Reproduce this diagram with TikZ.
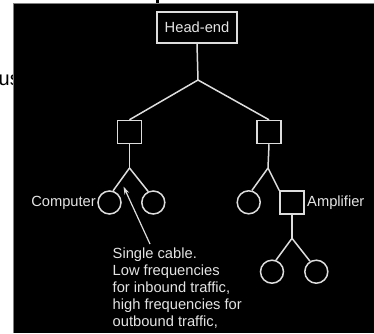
\documentclass[tikz,border=0pt]{standalone}
\usepackage{fontspec}
\setmainfont{Liberation Sans}
\usetikzlibrary{arrows.meta}
\definecolor{ln}{HTML}{DDDDDD}
\definecolor{tx}{HTML}{E4E4E4}
\begin{document}
\begin{tikzpicture}[x=1pt,y=-1pt,
  wire/.style={draw=ln,line width=1.5pt},
  boxnode/.style={draw=ln,line width=1.5pt,rectangle,minimum width=24pt,minimum height=23pt,inner sep=0pt},
  endnode/.style={draw=ln,line width=1.5pt,circle,minimum size=23pt,inner sep=0pt},
  lbl/.style={text=tx,font=\fontsize{14.7}{17}\selectfont,inner sep=0pt}]
\useasboundingbox (0,0) rectangle (374,333);
\fill[white] (0,0) rectangle (374,333);
\node[anchor=base west,inner sep=0pt,font=\fontsize{20}{24}\selectfont] (cut) at (-1.5,85) {us};
\fill[black] (13,3) rectangle (374,333);
\draw[gray,line width=1pt] (374,3) -- (13,3) -- (13,333);
\fill[black] (156,0) rectangle (158.5,3);
% nodes
\node[draw=ln,line width=1.5pt,rectangle,minimum width=80pt,minimum height=31pt,inner sep=0pt,lbl] (he) at (197,27.5) {Head-end};
\coordinate (j0) at (198,80);
\node[boxnode] (lb) at (129.5,132) {};
\node[boxnode] (rb) at (269,132) {};
\coordinate (jl) at (129.5,168);
\coordinate (jr) at (268,168);
\node[endnode] (c1) at (109.5,202.5) {};
\node[endnode] (c2) at (153.3,202.5) {};
\node[endnode] (c3) at (248.7,202.3) {};
\node[boxnode] (amp) at (292,202.7) {};
\coordinate (ja) at (292,238.3);
\node[endnode] (c4) at (272,271.7) {};
\node[endnode] (c5) at (316.3,271.7) {};
\node[lbl,anchor=east] (comp) at (96,202.5) {Computer};
\node[lbl,anchor=west] (ampl) at (307,203) {Amplifier};
\node[lbl,anchor=north west,align=left] (note) at (112.5,247.5) {Single cable.\\Low frequencies\\for inbound traffic,\\high frequencies for\\outbound traffic,};
% wires
\draw[wire] (he.south) -- (j0);
\draw[wire] (j0) -- (lb.north);
\draw[wire] (j0) -- (rb.north);
\draw[wire] (lb.south) -- (jl);
\draw[wire] (jl) -- (c1.73);
\draw[wire] (jl) -- (c2.115);
\draw[wire] (rb.south) -- (jr);
\draw[wire] (jr) -- (c3.75);
\draw[wire] (jr) -- (amp.north west);
\draw[wire] (amp.south) -- (ja);
\draw[wire] (ja) -- (c4.71);
\draw[wire] (ja) -- (c5.121);
% arrow
\coordinate (atip) at (123.5,186.5);
\coordinate (afoot) at (150,244);
\draw[draw=ln,line width=1.2pt,-{Stealth[length=8pt,width=5pt]}] (afoot) -- (atip);
\end{tikzpicture}
\end{document}
